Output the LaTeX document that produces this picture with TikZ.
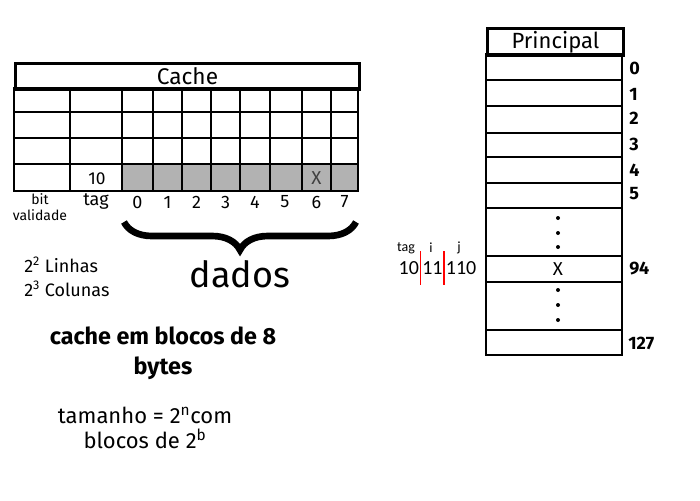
\documentclass[tikz,border=0pt]{standalone}
\usepackage{fontspec}
\setmainfont{Fira Sans}
\newfontfamily\calib{Carlito}
\usetikzlibrary{decorations.pathreplacing}
\tikzset{
  grid/.style={line width=2.2pt},
  lbl/.style={inner sep=0pt,font=\fontsize{13.5}{15}\selectfont},
  num/.style={inner sep=0pt,anchor=west,font=\fontsize{13.5}{15}\selectfont\bfseries},
  dot/.style={circle,fill=black,inner sep=0pt,minimum size=3pt},
}
\begin{document}
\begin{tikzpicture}[x=0.75pt,y=-0.75pt]
\useasboundingbox (0,0) rectangle (700,500);
% ---------- Cache table
\fill[gray!60] (122,164) rectangle (358,191);
\node[draw,grid,minimum width=344*0.75pt,minimum height=26*0.75pt,inner sep=0pt,anchor=north west,font=\fontsize{17}{19}\selectfont] (cachet) at (14,62) {Cache};
\draw[grid] (14,88) rectangle (358,191);
\foreach \y in {112,138,164} \draw[grid] (14,\y) -- (358,\y);
\foreach \x in {70,122,153,182,211,240,270,302,331} \draw[grid] (\x,88) -- (\x,191);
\node[lbl,font=\fontsize{13}{15}\selectfont] (ten) at (97,179) {10};
\node[lbl,font=\fontsize{14}{15}\selectfont\color{black!75}] (xc) at (316.5,178) {X};
% labels under the table
\node[inner sep=0pt,align=center,font=\fontsize{10.5}{12}\selectfont] (bit) at (40,207) {bit\\validade};
\node[lbl] (tag) at (96,202) {tag};
\foreach \i/\x in {0/137.5,1/167.5,2/196.5,3/225.5,4/255,5/285,6/316.5,7/344.5}
  \node[lbl] (c\i) at (\x,202) {\i};
% brace
\coordinate (br) at (356,222);
\coordinate (bl) at (124,222);
\draw[line width=5pt,decorate,decoration={brace,amplitude=21pt}] (br) -- (bl);
\node[inner sep=0pt,font=\fontsize{27}{30}\selectfont] (dados) at (240,274) {dados};
% texts left
\node[inner sep=0pt,anchor=west,align=left,font=\fontsize{13.5}{18}\selectfont] (lin) at (24,277) {2\textsuperscript{2} Linhas\\2\textsuperscript{3} Colunas};
\node[inner sep=0pt,align=center,font=\fontsize{17.5}{22.5}\selectfont\bfseries] (blk) at (163,353) {cache em blocos de 8\\bytes};
\node[inner sep=0pt,align=center,font=\fontsize{16.5}{19}\selectfont] (tam) at (145,428) {tamanho = 2\textsuperscript{n}com\\blocos de 2\textsuperscript{b}};
% ---------- address bits
\node[inner sep=0pt,font=\calib\fontsize{10.5}{12}\selectfont] (ltag) at (406,248) {tag};
\node[inner sep=0pt,font=\calib\fontsize{10.5}{12}\selectfont] (li) at (431,248) {i};
\node[inner sep=0pt,font=\calib\fontsize{10.5}{12}\selectfont] (lj) at (459,248) {j};
\node[inner sep=0pt,font=\calib\fontsize{15}{16}\selectfont] (addr) at (437.5,268) {10\,11\,110};
\coordinate (r1a) at (420.5,251); \coordinate (r1b) at (420.5,285);
\coordinate (r2a) at (444,251); \coordinate (r2b) at (444,285);
\draw[red,line width=0.9pt] (r1a) -- (r1b);
\draw[red,line width=0.9pt] (r2a) -- (r2b);
% ---------- Principal
\node[draw,grid,minimum width=136*0.75pt,minimum height=27*0.75pt,inner sep=0pt,anchor=north west,font=\fontsize{16.5}{18}\selectfont] (princ) at (486,27) {Principal};
\draw[grid] (486,54) rectangle (622,355);
\foreach \y in {80,106,133,157,183,208,256,282,330} \draw[grid] (486,\y) -- (622,\y);
\foreach \i/\y in {0/68,1/94,2/118,3/144,4/170,5/194} \node[num] (m\i) at (629,\y) {\i};
\node[num] (m94) at (629,269) {94};
\node[num] (m127) at (628,343) {127};
\node[inner sep=0pt,font=\fontsize{14}{15}\selectfont] (xm) at (558,269) {X};
\foreach \y in {218,233,247,290,305,320} \node[dot] at (558,\y) {};
\end{tikzpicture}
\end{document}
